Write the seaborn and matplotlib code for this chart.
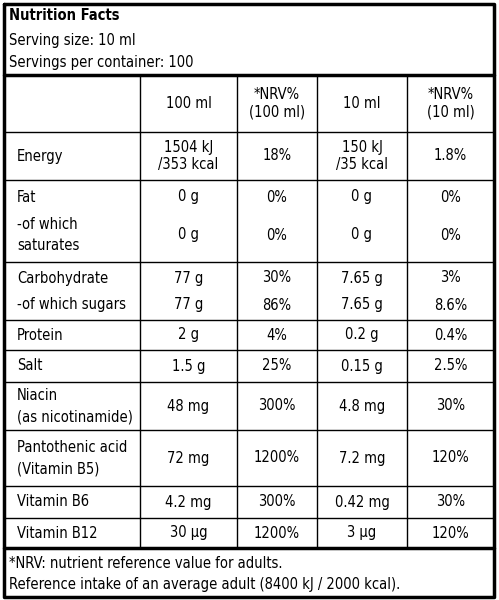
import matplotlib
matplotlib.use("Agg")
import matplotlib.pyplot as plt
import seaborn as sns

sns.set_style("white")
plt.rcParams['font.family'] = ['Liberation Sans Narrow', 'DejaVu Sans']
plt.rcParams['font.stretch'] = 'condensed'
plt.rcParams['text.color'] = 'black'

# table data
title = "Nutrition Facts"
serving = ["Serving size: 10 ml", "Servings per container: 100"]
headers = ["", "100 ml", "*NRV%\n(100 ml)", "10 ml", "*NRV%\n(10 ml)"]
# each group: list of rows (name, v100, nrv100, v10, nrv10)
groups = [
    [("Energy", "1504 kJ\n/353 kcal", "18%", "150 kJ\n/35 kcal", "1.8%")],
    [("Fat", "0 g", "0%", "0 g", "0%"),
     ("-of which\nsaturates", "0 g", "0%", "0 g", "0%")],
    [("Carbohydrate", "77 g", "30%", "7.65 g", "3%"),
     ("-of which sugars", "77 g", "86%", "7.65 g", "8.6%")],
    [("Protein", "2 g", "4%", "0.2 g", "0.4%")],
    [("Salt", "1.5 g", "25%", "0.15 g", "2.5%")],
    [("Niacin\n(as nicotinamide)", "48 mg", "300%", "4.8 mg", "30%")],
    [("Pantothenic acid\n(Vitamin B5)", "72 mg", "1200%", "7.2 mg", "120%")],
    [("Vitamin B6", "4.2 mg", "300%", "0.42 mg", "30%")],
    [("Vitamin B12", "30 µg", "1200%", "3 µg", "120%")],
]
footer = ["*NRV: nutrient reference value for adults.",
          "Reference intake of an average adult (8400 kJ / 2000 kcal)."]

# layout (pixels)
col_edges = [4, 140, 237, 317, 407, 494]
head_top, head_bot = 75, 132
group_bounds = [132, 180, 262, 320, 350, 382, 430, 486, 518, 548]
row_centers = [[156], [197, 235], [278, 305], [335], [366], [406], [458], [502], [533]]
fs = 10.5

fig = plt.figure(figsize=(4.99, 6.0), dpi=100)
ax = fig.add_axes([0, 0, 1, 1])
ax.set_xlim(0, 499)
ax.set_ylim(600, 0)
ax.axis("off")

L, R = col_edges[0], col_edges[-1]
ax.plot([L, R, R, L, L], [4, 4, 597, 597, 4], color="black", lw=2.5)
ax.text(L + 5, 15, title, fontsize=fs, fontweight="bold", va="center")
for i, s in enumerate(serving):
    ax.text(L + 5, 40 + 22 * i, s, fontsize=fs, va="center")
ax.plot([L, R], [head_top, head_top], color="black", lw=2.5)
ax.plot([L, R], [548, 548], color="black", lw=2.5)
for x in col_edges[1:-1]:
    ax.plot([x, x], [head_top, 548], color="black", lw=1)
for y in group_bounds[:-1]:
    ax.plot([L, R], [y, y], color="black", lw=1)

centers = [(col_edges[i] + col_edges[i + 1]) / 2 for i in range(5)]
for i, h in enumerate(headers):
    ax.text(centers[i], (head_top + head_bot) / 2, h, fontsize=fs,
            ha="center", va="center", linespacing=1.2)
for grp, ys in zip(groups, row_centers):
    for row, y in zip(grp, ys):
        ax.text(L + 13, y, row[0], fontsize=fs, va="center", linespacing=1.5)
        for j in range(1, 5):
            ax.text(centers[j], y, row[j], fontsize=fs, ha="center",
                    va="center", linespacing=1.2)
for i, s in enumerate(footer):
    ax.text(L + 5, 564 + 21 * i, s, fontsize=fs, va="center")

fig.savefig("out.png", dpi=100)
